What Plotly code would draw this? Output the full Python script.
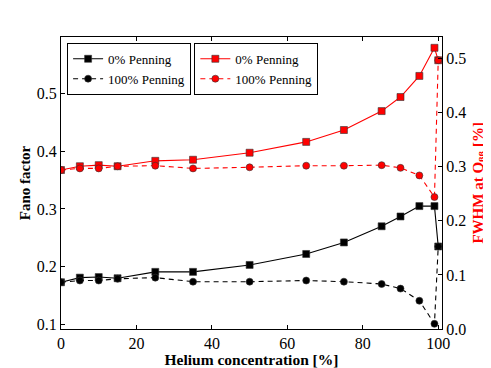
import plotly.graph_objects as go

# helium concentration [%]
helium = [0, 5, 10, 15, 25, 35, 50, 65, 75, 85, 90, 95, 99, 100]

# Fano factor (left axis)
fano_0 = [0.173, 0.181, 0.182, 0.180, 0.191, 0.191, 0.203, 0.222, 0.242, 0.270, 0.287, 0.305, 0.305, 0.235]
fano_100 = [0.173, 0.176, 0.176, 0.179, 0.181, 0.174, 0.174, 0.176, 0.174, 0.170, 0.162, 0.141, 0.101, 0.235]

# FWHM at Q_bb [%] (right axis)
fwhm_0 = [0.294, 0.301, 0.303, 0.301, 0.311, 0.313, 0.326, 0.346, 0.368, 0.403, 0.429, 0.468, 0.520, 0.497]
fwhm_100 = [0.294, 0.297, 0.297, 0.301, 0.302, 0.297, 0.299, 0.302, 0.302, 0.303, 0.298, 0.284, 0.244, 0.497]

SERIF = "Liberation Serif, Times New Roman, DejaVu Serif, serif"
edge = dict(color="#333333", width=0.6)

fig = go.Figure()

fig.add_trace(go.Scatter(x=helium, y=fano_0, name="0% Penning", mode="lines+markers",
                         line=dict(color="black", width=1.1),
                         marker=dict(symbol="square", size=7, color="black", line=edge),
                         legend="legend"))
fig.add_trace(go.Scatter(x=helium, y=fano_100, name="100% Penning", mode="lines+markers",
                         line=dict(color="black", width=1.1, dash="5px,4px"),
                         marker=dict(symbol="circle", size=7, color="black", line=edge),
                         legend="legend"))
fig.add_trace(go.Scatter(x=helium, y=fwhm_0, name="0% Penning", mode="lines+markers",
                         line=dict(color="red", width=1.1),
                         marker=dict(symbol="square", size=7, color="red", line=edge),
                         yaxis="y2", legend="legend2"))
fig.add_trace(go.Scatter(x=helium, y=fwhm_100, name="100% Penning", mode="lines+markers",
                         line=dict(color="red", width=1.1, dash="5px,4px"),
                         marker=dict(symbol="circle", size=7, color="red", line=edge),
                         yaxis="y2", legend="legend2"))

legend_style = dict(bgcolor="white", bordercolor="black", borderwidth=1,
                    font=dict(family=SERIF, size=13, color="black"),
                    xanchor="left", yanchor="top", tracegroupgap=0,
                    itemwidth=30)

# the page body adds an 8px offset, so the figure is 8px smaller and margins shifted
fig.update_layout(
    width=483, height=360,
    margin=dict(l=53, r=49, t=29, b=39, autoexpand=False),
    plot_bgcolor="white", paper_bgcolor="white",
    font=dict(family=SERIF, size=16, color="black"),
    showlegend=True,
    legend=dict(x=0.016, y=0.98, **legend_style),
    legend2=dict(x=0.35, y=0.98, **legend_style),
    xaxis=dict(range=[0, 101], tickvals=[0, 20, 40, 60, 80, 100],
               ticks="inside", ticklen=4, tickcolor="black",
               showline=True, linecolor="black", linewidth=1.2, mirror="ticks",
               showgrid=False, zeroline=False, automargin=False,
               title=dict(text="<b>Helium concentration [%]</b>", font=dict(size=15.5), standoff=1)),
    yaxis=dict(range=[0.092, 0.598], tickvals=[0.1, 0.2, 0.3, 0.4, 0.5], tickformat=".1f",
               ticks="inside", ticklen=4, tickcolor="black",
               showline=True, linecolor="black", linewidth=1.2,
               showgrid=False, zeroline=False, automargin=False,
               title=dict(text="<b>Fano factor</b>", font=dict(size=15), standoff=2)),
    yaxis2=dict(range=[0, 0.54], tickvals=[0, 0.1, 0.2, 0.3, 0.4, 0.5], tickformat=".1f",
                overlaying="y", side="right",
                ticks="inside", ticklen=4, tickcolor="black",
                showline=True, linecolor="black", linewidth=1.2,
                showgrid=False, zeroline=False, automargin=False),
)

# right axis title placed by hand so it is not clipped by the narrow margin
fig.add_annotation(text="<b>FWHM at Q<sub>ββ</sub> [%]</b>", xref="paper", yref="paper",
                   x=1.096, y=0.5, xanchor="center", yanchor="middle", textangle=-90,
                   showarrow=False, font=dict(family=SERIF, size=15, color="red"))

fig.write_html("out.html")
